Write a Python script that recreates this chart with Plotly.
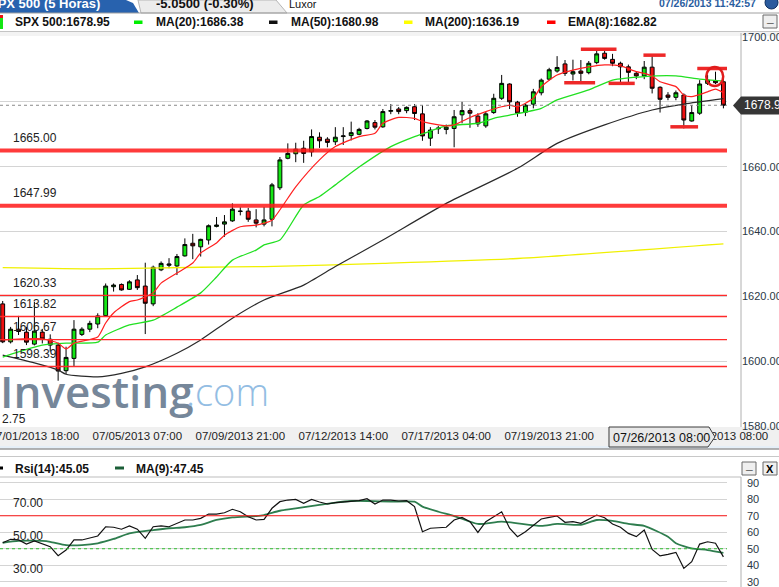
import plotly.graph_objects as go

W, H = 779, 587

# ---------------- data ----------------
bar_index = list(range(92))
opens = [1617.7, 1606.0, 1609.9, 1609.0, 1605.3, 1609.0, 1606.8, 1605.0, 1597.1, 1600.9,
         1608.3, 1609.9, 1611.5, 1614.1, 1623.0, 1623.7, 1622.2, 1625.1, 1623.2, 1617.7,
         1628.2, 1629.6, 1629.4, 1632.5, 1636.4, 1635.3, 1637.4, 1641.6, 1642.3, 1643.3,
         1646.2, 1646.3, 1643.6, 1642.3, 1643.8, 1653.5, 1662.6, 1664.0, 1665.7, 1664.6,
         1669.1, 1668.5, 1667.7, 1669.3, 1669.6, 1670.0, 1671.8, 1673.6, 1672.3, 1677.1,
         1677.8, 1677.3, 1678.5, 1676.3, 1668.8, 1671.7, 1671.5, 1671.8, 1676.0, 1677.3,
         1675.6, 1672.6, 1676.7, 1681.1, 1685.5, 1679.9, 1676.8, 1679.3, 1682.8, 1687.0,
         1689.5, 1691.7, 1688.6, 1689.5, 1689.0, 1692.1, 1695.0, 1693.1, 1691.9, 1690.8,
         1688.8, 1688.0, 1690.7, 1684.5, 1682.1, 1681.4, 1682.1, 1674.1, 1676.5, 1685.7,
         1686.5, 1686.2]
highs = [1618.6, 1610.6, 1614.0, 1610.6, 1618.3, 1610.0, 1608.3, 1605.7, 1604.5, 1612.7,
         1610.5, 1612.5, 1614.8, 1624.0, 1624.0, 1624.0, 1625.0, 1626.6, 1630.4, 1629.5,
         1630.8, 1631.8, 1633.1, 1637.9, 1639.3, 1637.8, 1642.2, 1644.5, 1645.1, 1648.7,
         1647.5, 1647.3, 1646.9, 1647.6, 1655.0, 1663.0, 1667.2, 1667.4, 1668.0, 1671.5,
         1670.6, 1669.1, 1672.2, 1672.2, 1673.9, 1672.0, 1674.4, 1674.4, 1677.8, 1679.3,
         1678.4, 1678.6, 1679.3, 1679.0, 1672.2, 1672.6, 1673.0, 1677.5, 1680.0, 1678.0,
         1676.5, 1676.9, 1682.5, 1688.3, 1685.7, 1680.3, 1679.5, 1684.0, 1687.2, 1690.5,
         1694.1, 1692.9, 1693.0, 1692.9, 1692.6, 1696.1, 1695.7, 1694.8, 1692.4, 1691.5,
         1689.5, 1692.6, 1694.4, 1684.8, 1683.0, 1683.5, 1682.6, 1679.0, 1686.7, 1688.3,
         1689.3, 1687.8]
lows = [1605.6, 1605.5, 1608.1, 1605.0, 1604.9, 1605.5, 1603.0, 1594.0, 1596.1, 1598.3,
        1607.8, 1609.0, 1610.2, 1613.9, 1621.5, 1621.8, 1622.0, 1622.0, 1608.4, 1617.0,
        1627.8, 1628.7, 1626.6, 1632.3, 1631.5, 1632.3, 1636.0, 1641.3, 1638.4, 1643.0,
        1645.0, 1643.0, 1641.3, 1641.6, 1641.6, 1652.8, 1662.3, 1661.4, 1661.2, 1663.1,
        1665.8, 1666.0, 1666.7, 1666.7, 1668.1, 1669.7, 1671.5, 1671.5, 1672.0, 1676.2,
        1676.2, 1676.5, 1674.4, 1668.0, 1666.4, 1670.1, 1670.0, 1666.0, 1673.4, 1672.0,
        1672.3, 1672.0, 1676.3, 1680.6, 1677.8, 1675.4, 1675.6, 1678.0, 1682.0, 1686.6,
        1689.0, 1688.0, 1686.6, 1685.5, 1688.5, 1691.6, 1693.0, 1691.0, 1686.0, 1685.7,
        1687.0, 1687.0, 1682.6, 1676.7, 1680.5, 1680.5, 1671.8, 1673.9, 1676.0, 1685.2,
        1685.5, 1678.0]
closes = [1606.0, 1609.9, 1609.2, 1605.9, 1609.3, 1606.9, 1605.0, 1597.0, 1601.2, 1609.9,
          1609.9, 1611.7, 1614.0, 1623.2, 1623.5, 1622.0, 1624.5, 1622.7, 1617.9, 1629.0,
          1630.2, 1630.0, 1632.3, 1636.0, 1635.6, 1637.6, 1641.8, 1642.0, 1643.0, 1646.9,
          1646.3, 1643.8, 1642.6, 1643.6, 1654.4, 1662.1, 1664.1, 1665.4, 1664.1, 1669.3,
          1668.0, 1667.5, 1669.1, 1669.5, 1670.5, 1671.5, 1674.1, 1672.2, 1677.0, 1677.3,
          1677.0, 1678.3, 1676.4, 1669.5, 1671.3, 1671.9, 1672.2, 1675.4, 1677.3, 1676.5,
          1673.2, 1676.3, 1681.1, 1685.7, 1680.0, 1676.5, 1679.0, 1683.1, 1686.7, 1689.9,
          1690.6, 1688.8, 1689.3, 1688.8, 1691.9, 1694.8, 1693.4, 1691.9, 1690.8, 1689.1,
          1688.0, 1690.7, 1684.2, 1680.8, 1681.4, 1682.8, 1674.4, 1676.7, 1685.5, 1686.7,
          1685.9, 1678.95]

ema8_idx = [0, 5, 7, 8, 9, 12, 13, 14, 16, 17, 19, 20, 22, 24, 25, 27, 28, 30, 32, 33, 34,
            37, 40, 42, 45, 47, 48, 50, 52, 53, 56, 57, 59, 61, 63, 64, 65, 67, 68, 70, 72,
            74, 76, 78, 80, 81, 82, 83, 85, 86, 87, 89, 90, 91]
ema8_val = [1606.6, 1606.9, 1605.6, 1603.8, 1605.6, 1607.5, 1611.8, 1614.9, 1618.4, 1618.9,
            1621.1, 1624.1, 1627.2, 1630.3, 1633.4, 1636.5, 1638.9, 1641.5, 1642.0, 1642.6,
            1643.5, 1653.8, 1662.1, 1666.2, 1669.3, 1670.3, 1673.4, 1675.2, 1674.9, 1673.9,
            1672.6, 1672.9, 1675.2, 1677.0, 1678.5, 1679.0, 1678.5, 1681.1, 1684.7, 1688.3,
            1689.8, 1690.8, 1691.4, 1691.1, 1689.3, 1688.8, 1688.0, 1686.2, 1684.7, 1682.1,
            1681.6, 1683.1, 1683.9, 1682.82]

ma20_idx = [0, 2, 5, 8, 12, 13, 16, 19, 22, 25, 27, 29, 32, 33, 35, 38, 40, 42, 45, 49,
            52, 54, 56, 60, 62, 64, 68, 70, 74, 77, 81, 85, 88, 91]
ma20_val = [1601.3, 1602.9, 1605.0, 1605.6, 1605.9, 1608.1, 1611.2, 1612.7, 1616.7, 1621.1,
            1626.0, 1631.2, 1634.3, 1635.9, 1637.4, 1648.2, 1650.8, 1654.4, 1659.9, 1666.2,
            1669.3, 1671.0, 1672.6, 1673.4, 1674.9, 1675.9, 1678.0, 1680.6, 1683.7, 1686.7,
            1687.8, 1688.0, 1687.0, 1686.38]

ma50_idx = [0, 4, 7, 8, 12, 15, 18, 22, 25, 29, 33, 38, 42, 48, 56, 65, 70, 76, 82, 86, 91]
ma50_val = [1601.9, 1599.5, 1597.3, 1596.0, 1595.2, 1596.3, 1598.3, 1602.5, 1606.6, 1613.3,
            1618.9, 1623.5, 1629.2, 1637.4, 1648.7, 1659.5, 1667.2, 1672.9, 1677.5, 1679.3,
            1680.98]

ma200_idx = [0, 12, 25, 33, 48, 65, 91]
ma200_val = [1628.9, 1628.5, 1629.0, 1629.2, 1630.2, 1631.7, 1636.19]

rsi14 = [53.6, 55.7, 55.3, 52.8, 54.7, 52.8, 51.2, 45.8, 49.2, 55.3,
         55.3, 56.5, 57.7, 63.3, 63.0, 61.8, 63.8, 61.8, 56.3, 63.3,
         63.8, 63.3, 65.4, 67.4, 67.4, 68.4, 71.0, 71.0, 71.8, 73.9,
         72.4, 69.4, 67.4, 67.8, 74.5, 78.5, 79.5, 79.9, 77.5, 79.9,
         78.3, 77.1, 77.9, 78.3, 78.7, 79.1, 80.3, 77.1, 79.5, 79.5,
         78.9, 79.1, 75.5, 60.3, 62.4, 62.6, 63.0, 67.4, 69.0, 66.4,
         59.9, 66.4, 69.5, 72.4, 62.4, 57.3, 60.3, 64.4, 68.0, 69.0,
         69.8, 66.0, 66.4, 65.4, 68.0, 70.4, 68.8, 65.0, 63.0, 59.3,
         57.3, 61.3, 49.6, 45.6, 46.6, 47.8, 38.1, 42.1, 52.8, 54.2,
         53.3, 45.05]

rsi_ma9_idx = [0, 2, 5, 6, 8, 10, 12, 14, 16, 19, 21, 23, 25, 27, 29, 32, 33, 35, 37, 40,
               42, 44, 46, 49, 52, 53, 55, 57, 60, 63, 68, 70, 73, 75, 77, 79, 81, 84, 85,
               87, 89, 91]
rsi_ma9_val = [53.6, 54.7, 54.7, 54.2, 52.2, 52.2, 53.3, 55.9, 59.3, 61.3, 62.4, 63.0, 64.4,
               67.4, 69.0, 69.8, 70.4, 73.0, 74.5, 76.5, 77.9, 78.9, 78.9, 78.5, 78.5, 75.5,
               72.4, 69.8, 65.0, 66.4, 63.8, 65.0, 64.5, 67.4, 66.8, 65.0, 63.8, 57.3, 53.3,
               50.2, 49.2, 47.45]

tick_idx = [4, 17, 30, 43, 56, 69, 91]
tick_text = ["07/01/2013 18:00", "07/05/2013 07:00", "07/09/2013 21:00", "07/12/2013 14:00",
             "07/17/2013 04:00", "07/19/2013 21:00", "07/26/2013 08:00"]
price_ticks = [1580, 1600, 1620, 1640, 1660, 1680, 1700]
rsi_ticks = [30, 40, 50, 60, 70, 80, 90]

levels_thick = [1665.00, 1647.99]
levels_thin = [1620.33, 1613.82, 1606.67, 1598.39]
last_price = 1678.95
rsi_levels = [70.00, 50.00, 30.00]

# drawn marks (start index, end index, price)
marks = [(73.0, 77.5, 1696.2), (70.9, 74.8, 1685.9), (76.5, 79.8, 1685.7),
         (80.9, 83.7, 1694.4), (84.3, 87.8, 1672.3), (87.7, 91.75, 1690.3)]
circle_mark = (89.9, 1687.8)

legend_main = [("SPX 500", 1678.95), ("MA(20)", 1686.38), ("MA(50)", 1680.98),
               ("MA(200)", 1636.19), ("EMA(8)", 1682.82)]
legend_rsi = [("Rsi(14)", 45.05), ("MA(9)", 47.45)]

# ---------------- layout helpers ----------------
def px(x):
    return x / W


def py(y):
    return 1 - y / H


def pathp(points):
    return "M" + " L".join(f"{px(x):.5f},{py(y):.5f}" for x, y in points) + " Z"


PX_PER_BAR = 7.92
X0 = 2.7
xr = [(0 - X0) / PX_PER_BAR, (727 - X0) / PX_PER_BAR]
PX_PER_PT = 3.243
yr = [1700 - (427 - 37) / PX_PER_PT, 1700 + 1 / PX_PER_PT]
RSI_PX = 1.65
rsi_r = [50 - (587 - 548.7) / RSI_PX, 50 + (548.7 - 477) / RSI_PX]

fig = go.Figure()

fig.add_trace(go.Candlestick(
    x=bar_index, open=opens, high=highs, low=lows, close=closes,
    increasing=dict(fillcolor="#14e614", line=dict(color="#000000", width=1)),
    decreasing=dict(fillcolor="#ee1111", line=dict(color="#000000", width=1)),
    whiskerwidth=0, hoverinfo="skip", xaxis="x", yaxis="y"))

for xs, ys, col, w in [(ma200_idx, ma200_val, "#f0f000", 1.3),
                       (ma50_idx, ma50_val, "#2a2a2a", 1.2),
                       (ma20_idx, ma20_val, "#22e022", 1.3),
                       (ema8_idx, ema8_val, "#ff2020", 1.2)]:
    fig.add_trace(go.Scatter(x=xs, y=ys, mode="lines",
                             line=dict(color=col, width=w, shape="spline", smoothing=0.6),
                             hoverinfo="skip", xaxis="x", yaxis="y"))

fig.add_trace(go.Scatter(x=rsi_ma9_idx, y=rsi_ma9_val, mode="lines",
                         line=dict(color="#2e7d4e", width=1.8, shape="spline", smoothing=0.6),
                         hoverinfo="skip", xaxis="x2", yaxis="y2"))
fig.add_trace(go.Scatter(x=bar_index, y=rsi14, mode="lines", line=dict(color="#111111", width=1.2),
                         hoverinfo="skip", xaxis="x2", yaxis="y2"))

shapes = []
ann = []

# header background pieces
shapes.append(dict(type="path", xref="paper", yref="paper", layer="above",
                   path=pathp([(0, 0), (126, 0), (133, 3), (139, 13), (0, 13)]),
                   fillcolor="#2862ae", line=dict(width=0)))
shapes.append(dict(type="path", xref="paper", yref="paper", layer="above",
                   path=pathp([(138, 0), (276, 0), (287, 13), (141, 13)]),
                   fillcolor="#ececec", line=dict(color="#b5b5b5", width=1)))
shapes.append(dict(type="line", xref="paper", yref="paper", layer="above",
                   x0=px(0), x1=px(779), y0=py(13), y1=py(13), line=dict(color="#a0a0a0", width=1)))
shapes.append(dict(type="line", xref="paper", yref="paper", layer="above",
                   x0=px(0), x1=px(779), y0=py(31.5), y1=py(31.5), line=dict(color="#c4c4c4", width=1)))
shapes.append(dict(type="rect", xref="paper", yref="paper", layer="below",
                   x0=px(0), x1=px(779), y0=py(36), y1=py(32), fillcolor="#f3f3f3", line=dict(width=0)))
shapes.append(dict(type="circle", xref="paper", yref="paper", layer="above",
                   x0=px(765), x1=px(778), y0=py(9), y1=py(-4), fillcolor="#2a5b9e",
                   line=dict(color="#0e3060", width=1)))

# legend swatches
shapes.append(dict(type="rect", xref="paper", yref="paper", layer="above",
                   x0=px(0), x1=px(3), y0=py(29), y1=py(18), fillcolor="#14e614", line=dict(width=0)))
shapes.append(dict(type="rect", xref="paper", yref="paper", layer="above",
                   x0=px(0), x1=px(3), y0=py(18), y1=py(15), fillcolor="#ee1111", line=dict(width=0)))
for x0, col in [(134, "#00ee00"), (269, "#111111"), (404, "#ffff00"), (547, "#ff0000")]:
    shapes.append(dict(type="rect", xref="paper", yref="paper", layer="above",
                       x0=px(x0), x1=px(x0 + 8.5), y0=py(24), y1=py(20.5), fillcolor=col, line=dict(width=0)))
shapes.append(dict(type="rect", xref="paper", yref="paper", layer="above",
                   x0=px(0), x1=px(3), y0=py(469.5), y1=py(466.5), fillcolor="#000000", line=dict(width=0)))
shapes.append(dict(type="rect", xref="paper", yref="paper", layer="above",
                   x0=px(115), x1=px(124), y0=py(469.5), y1=py(466.5), fillcolor="#1b5e37", line=dict(width=0)))

# buttons
for (bx0, by0, glyph) in [(763, 15, "_"), (742, 462, "_"), (763, 462, "X")]:
    shapes.append(dict(type="rect", xref="paper", yref="paper", layer="above",
                       x0=px(bx0), x1=px(bx0 + 14), y0=py(by0 + 13), y1=py(by0),
                       fillcolor="#efefef", line=dict(color="#6a6a6a", width=1)))
    ann.append(dict(x=px(bx0 + 7), y=py(by0 + 6.5 if glyph == "X" else by0 + 3), xref="paper", yref="paper",
                    text=f"<b>{glyph}</b>", showarrow=False, xanchor="center", yanchor="middle",
                    font=dict(size=11 if glyph == "X" else 12, color="#000000")))

# main panel borders / strips
shapes.append(dict(type="line", xref="paper", yref="paper", layer="above",
                   x0=px(741), x1=px(741), y0=py(33), y1=py(427), line=dict(color="#b0b0b0", width=1)))
shapes.append(dict(type="rect", xref="paper", yref="paper", layer="below",
                   x0=px(0), x1=px(779), y0=py(446), y1=py(427), fillcolor="#f0f0f0", line=dict(width=0)))
shapes.append(dict(type="rect", xref="paper", yref="paper", layer="below",
                   x0=px(0), x1=px(779), y0=py(449), y1=py(446), fillcolor="#e6eff7", line=dict(width=0)))
shapes.append(dict(type="line", xref="paper", yref="paper", layer="above",
                   x0=px(0), x1=px(779), y0=py(449), y1=py(449), line=dict(color="#9a9a9a", width=1.5)))
shapes.append(dict(type="line", xref="paper", yref="paper", layer="above",
                   x0=px(0), x1=px(779), y0=py(456.5), y1=py(456.5), line=dict(color="#c8c8c8", width=1)))
shapes.append(dict(type="line", xref="paper", yref="paper", layer="above",
                   x0=px(0), x1=px(741), y0=py(477), y1=py(477), line=dict(color="#bdbdbd", width=1)))
shapes.append(dict(type="line", xref="paper", yref="paper", layer="above",
                   x0=px(741), x1=px(741), y0=py(477), y1=py(587), line=dict(color="#b0b0b0", width=1)))

# price levels
for lv in levels_thin:
    shapes.append(dict(type="line", xref="paper", yref="y", layer="above", x0=0, x1=px(727), y0=lv, y1=lv,
                       line=dict(color="#ff2a2a", width=1.3)))
for lv in levels_thick:
    shapes.append(dict(type="line", xref="paper", yref="y", layer="above", x0=0, x1=px(727), y0=lv, y1=lv,
                       line=dict(color="rgba(255,25,25,0.85)", width=4)))
shapes.append(dict(type="line", xref="paper", yref="y", layer="above", x0=0, x1=px(727),
                   y0=last_price, y1=last_price, line=dict(color="#8a8a8a", width=1, dash="dot")))

for (a, b, lv) in marks:
    shapes.append(dict(type="line", xref="x", yref="y", layer="above", x0=a, x1=b, y0=lv, y1=lv,
                       line=dict(color="#ee2828", width=3.5)))
cx, cy = circle_mark
shapes.append(dict(type="circle", xref="x", yref="y", layer="above",
                   x0=cx - 8.5 / PX_PER_BAR, x1=cx + 8.5 / PX_PER_BAR,
                   y0=cy - 9.5 / PX_PER_PT, y1=cy + 9.5 / PX_PER_PT,
                   line=dict(color="#e01c1c", width=2.5)))

# last price callout
shapes.append(dict(type="path", xref="paper", yref="paper", layer="above",
                   path=pathp([(733, 105.5), (741, 96.5), (781, 96.5), (781, 114.5), (741, 114.5)]),
                   fillcolor="#363636", line=dict(width=0)))
ann.append(dict(x=px(742), y=py(105.5), xref="paper", yref="paper", text=f"{last_price:.2f}",
                showarrow=False, xanchor="left", yanchor="middle", font=dict(size=12, color="#ffffff")))

# cursor box on x axis
shapes.append(dict(type="path", xref="paper", yref="paper", layer="above",
                   path=pathp([(609, 427), (709, 427), (715, 437), (708, 447), (609, 447)]),
                   fillcolor="#e8e8e8", line=dict(color="#3c3c3c", width=1)))
ann.append(dict(x=px(661), y=py(437.5), xref="paper", yref="paper", text=tick_text[-1],
                showarrow=False, xanchor="center", yanchor="middle", font=dict(size=12.5, color="#111111")))

# RSI reference lines
shapes.append(dict(type="line", xref="paper", yref="y2", layer="above", x0=0, x1=px(727), y0=70, y1=70,
                   line=dict(color="#ff1a1a", width=1.1)))
shapes.append(dict(type="line", xref="paper", yref="y2", layer="above", x0=0, x1=px(727), y0=50, y1=50,
                   line=dict(color="#2fbf2f", width=1.1, dash="dot")))

# header texts
ann.append(dict(x=px(102), y=py(3.5), xref="paper", yref="paper", text="<b>SPX 500 (5 Horas)</b>",
                showarrow=False, xanchor="right", yanchor="middle", font=dict(size=13, color="#ffffff")))
ann.append(dict(x=px(205), y=py(3.5), xref="paper", yref="paper", text="<b>-5.0500 (-0.30%)</b>",
                showarrow=False, xanchor="center", yanchor="middle", font=dict(size=13, color="#111111")))
ann.append(dict(x=px(287), y=py(4), xref="paper", yref="paper", text="Luxor",
                showarrow=False, xanchor="left", yanchor="middle", font=dict(size=11, color="#111111")))
ann.append(dict(x=px(758), y=py(3), xref="paper", yref="paper", text="<b>07/26/2013 11:42:57</b>",
                showarrow=False, xanchor="right", yanchor="middle", font=dict(size=10.5, color="#2a5da0")))

for (name, val), x0 in zip(legend_main, [13, 154, 288.5, 423, 565.5]):
    ann.append(dict(x=px(x0), y=py(22.5), xref="paper", yref="paper", text=f"<b>{name}:{val:.2f}</b>",
                    showarrow=False, xanchor="left", yanchor="middle", font=dict(size=12, color="#111111")))
for (name, val), x0 in zip(legend_rsi, [13, 134]):
    ann.append(dict(x=px(x0), y=py(468.5), xref="paper", yref="paper", text=f"<b>{name}:{val:.2f}</b>",
                    showarrow=False, xanchor="left", yanchor="middle", font=dict(size=12, color="#111111")))

# level labels
for lv in levels_thick + levels_thin:
    ly = 37 + (1700 - lv) * PX_PER_PT - 12.5
    ann.append(dict(x=px(11), y=py(ly), xref="paper", yref="paper", text=f"{lv:.2f}",
                    showarrow=False, xanchor="left", yanchor="middle", font=dict(size=12, color="#222222")))
ann.append(dict(x=px(0), y=py(419), xref="paper", yref="paper", text="2.75",
                showarrow=False, xanchor="left", yanchor="middle", font=dict(size=12, color="#222222")))
for lv in rsi_levels:
    ly = 548.7 - (lv - 50) * RSI_PX - 13
    ann.append(dict(x=px(11), y=py(ly), xref="paper", yref="paper", text=f"{lv:.2f}",
                    showarrow=False, xanchor="left", yanchor="middle", font=dict(size=12, color="#222222")))

# watermark
ann.append(dict(x=px(-2), y=py(391), xref="paper", yref="paper", text="Investing",
                showarrow=False, xanchor="left", yanchor="middle",
                font=dict(size=44, color="#76879a", family="Open Sans", weight=600)))
ann.append(dict(x=px(184), y=py(391), xref="paper", yref="paper", text=".com",
                showarrow=False, xanchor="left", yanchor="middle",
                font=dict(size=38, color="#93bde3", family="Open Sans", weight=300)))

fig.update_layout(
    width=W, height=H, template="none",
    margin=dict(l=0, r=0, t=0, b=0, pad=0),
    paper_bgcolor="#ffffff", plot_bgcolor="#ffffff",
    showlegend=False, hovermode=False,
    font=dict(family="Liberation Sans, Arial, sans-serif", color="#222222"),
    xaxis=dict(domain=[0, px(727)], range=xr, anchor="y", showgrid=False, zeroline=False, showline=False,
               tickmode="array", tickvals=tick_idx, ticktext=tick_text, ticks="",
               tickfont=dict(size=11.5, color="#1e1e1e"), rangeslider=dict(visible=False),
               ticklabeloverflow="allow", automargin=False, fixedrange=True),
    yaxis=dict(domain=[py(427), py(36)], range=yr, anchor="x", side="right",
               tickmode="array", tickvals=price_ticks, ticktext=[f"{v:.2f}" for v in price_ticks],
               showgrid=True, gridcolor="#d4d4d4", gridwidth=1, zeroline=False, showline=False,
               ticks="", ticklabelstandoff=14, tickfont=dict(size=11, color="#2b3845"),
               ticklabeloverflow="allow", automargin=False, fixedrange=True),
    xaxis2=dict(domain=[0, px(727)], range=xr, anchor="y2", visible=False, fixedrange=True),
    yaxis2=dict(domain=[0, py(477)], range=rsi_r, anchor="x2", side="right",
                tickmode="array", tickvals=rsi_ticks, ticktext=[str(v) for v in rsi_ticks],
                showgrid=True, gridcolor="#d4d4d4", gridwidth=1, zeroline=False, showline=False,
                ticks="", ticklabelstandoff=19, tickfont=dict(size=11, color="#2b3845"),
                ticklabeloverflow="allow", automargin=False, fixedrange=True),
    shapes=shapes, annotations=ann,
)

fig.write_html("out.html", config={"displayModeBar": False},
               post_script="document.body.style.margin='0';document.body.style.overflow='hidden';")
